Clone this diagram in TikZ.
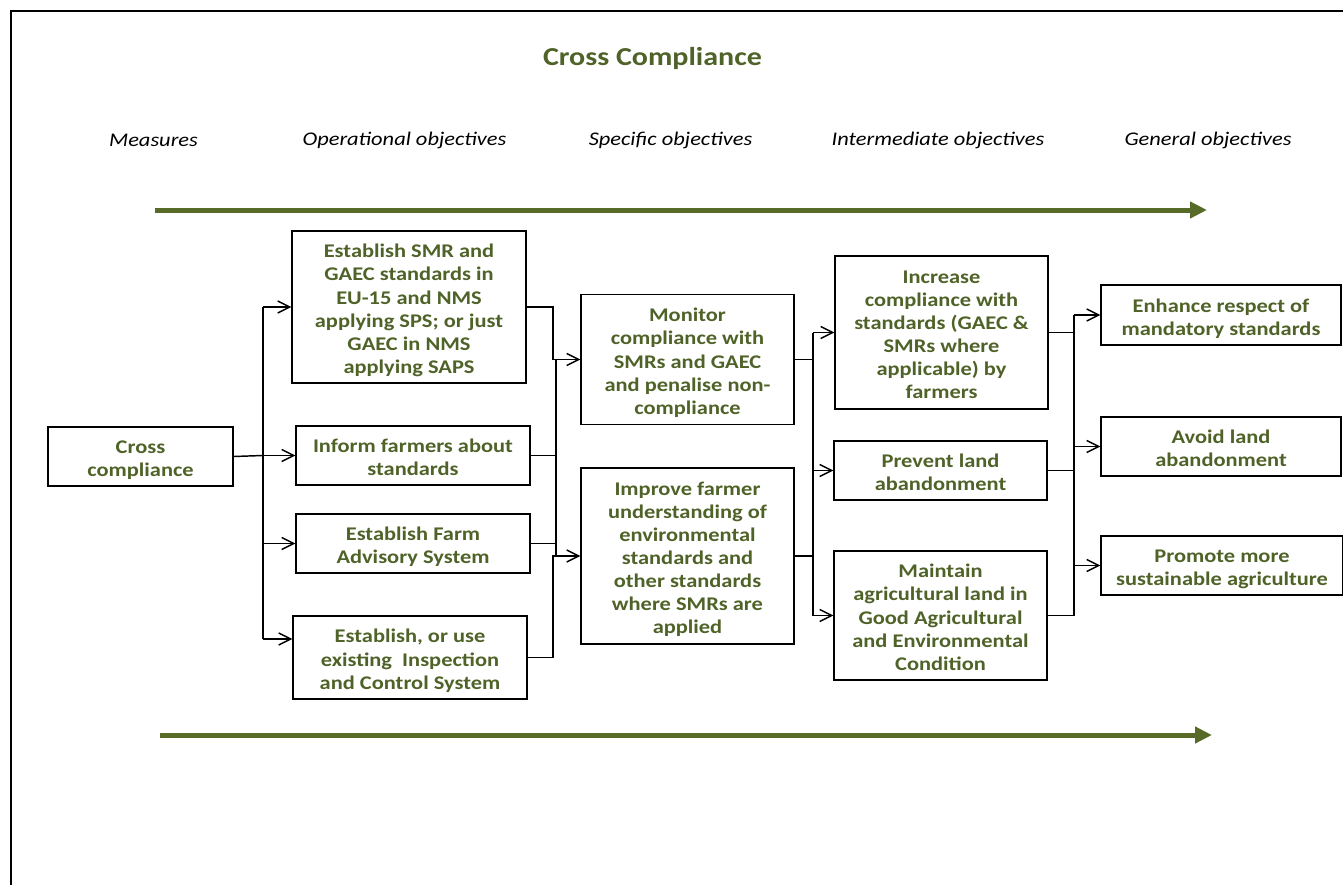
\documentclass[tikz,border=0pt]{standalone}
\usepackage{fontspec}
\setmainfont{Carlito}[FakeStretch=1.16]
\usetikzlibrary{arrows.meta,calc}
\definecolor{olivetext}{HTML}{4F6228}
\definecolor{olivearrow}{HTML}{586A28}
\newcommand\pxu{0.75pt}
\newcommand\btext[1]{\begin{tabular}{@{}c@{}}\rule{0pt}{18pt}#1\end{tabular}}
\tikzset{
  box/.style={draw=black, line width=1pt, inner sep=0pt,
    text=olivetext, font=\fontsize{14.5}{17.3}\selectfont\bfseries},
  hdr/.style={font=\fontsize{14.5}{17.3}\selectfont\itshape, text=black, inner sep=0pt},
  conn/.style={draw=black, line width=1.1pt},
  connar/.style={conn, -{Straight Barb[length=9pt,width=9pt,line width=1.1pt]}},
  bigar/.style={draw=olivearrow, line width=3.75pt, -{Triangle[length=12.75pt,width=12pt]}}
}
\begin{document}
\begin{tikzpicture}[x=0.75pt,y=-0.75pt]
\useasboundingbox (0,0) rectangle (1343,885);
% frame
\draw[line width=1.5pt] (11,885) -- (11,11) -- (1343,11);
% title
\node[font=\fontsize{19.4}{23}\selectfont\bfseries, text=olivetext, inner sep=0pt] (title) at (652.5,58) {Cross Compliance};
% headers
\node[hdr] (h1) at (153.5,140) {Measures};
\node[hdr] (h2) at (404.5,140) {Operational objectives};
\node[hdr] (h3) at (670.5,140) {Specific objectives};
\node[hdr] (h4) at (938,140) {Intermediate objectives};
\node[hdr] (h5) at (1208,140) {General objectives};
% big arrows
\coordinate (ta) at (155,210); \coordinate (tb) at (1207,210);
\coordinate (ba) at (160,735); \coordinate (bb) at (1212,735);
\draw[bigar] (ta) -- (tb);
\draw[bigar] (ba) -- (bb);
% boxes
\node[box, minimum width=185*\pxu, minimum height=59*\pxu] (cc) at (140.5,456.5) {\btext{Cross\\compliance}};
\node[box, minimum width=234*\pxu, minimum height=152*\pxu] (a1) at (409,307) {\btext{Establish SMR and\\GAEC standards in\\EU-15 and NMS\\applying SPS; or just\\GAEC in NMS\\applying SAPS}};
\node[box, minimum width=234*\pxu, minimum height=59*\pxu] (a2) at (413,455.5) {\btext{Inform farmers about\\standards}};
\node[box, minimum width=234*\pxu, minimum height=59*\pxu] (a3) at (413,543.5) {\btext{Establish Farm\\Advisory System}};
\node[box, minimum width=234*\pxu, minimum height=83*\pxu] (a4) at (410,657.5) {\btext{Establish, or use\\existing\ \ Inspection\\and Control System}};
\node[box, minimum width=213*\pxu, minimum height=130*\pxu] (b1) at (687.5,359.5) {\btext{Monitor\\compliance with\\SMRs and GAEC\\and penalise non-\\compliance}};
\node[box, minimum width=213*\pxu, minimum height=176*\pxu] (b2) at (687.5,556) {\btext{Improve farmer\\understanding of\\environmental\\standards and\\other standards\\where SMRs are\\applied}};
\node[box, minimum width=213*\pxu, minimum height=153*\pxu] (c1) at (941.5,332.5) {\btext{Increase\\compliance with\\standards (GAEC \&\\SMRs where\\applicable) by\\farmers}};
\node[box, minimum width=213*\pxu, minimum height=59*\pxu] (c2) at (940.5,470.5) {\btext{Prevent land\\abandonment}};
\node[box, minimum width=213*\pxu, minimum height=129*\pxu] (c3) at (940.5,615.5) {\btext{Maintain\\agricultural land in\\Good Agricultural\\and Environmental\\Condition}};
\node[box, minimum width=240*\pxu, minimum height=60*\pxu] (d1) at (1221,315) {\btext{Enhance respect of\\mandatory standards}};
\node[box, minimum width=240*\pxu, minimum height=59*\pxu] (d2) at (1221,446.5) {\btext{Avoid land\\abandonment}};
\node[box, minimum width=242*\pxu, minimum height=59*\pxu] (d3) at (1222,565.5) {\btext{Promote more\\sustainable agriculture}};
% connectors: measures -> operational
\coordinate (t1) at (263,307);
\coordinate (t2) at (263,455.5);
\coordinate (t3) at (263,543.5);
\coordinate (t4) at (263,639);
\draw[conn] (cc.east) -- (t2);
\draw[conn] (t1) -- (t4);
\draw[connar] (t1) -- (a1.west);
\draw[connar] (t2) -- (a2.west);
\draw[connar] (t3) -- (a3.west);
\draw[connar] (t4) -- (t4 -| a4.west);
% operational -> specific
\coordinate (j1) at (553,359.5);
\coordinate (j2) at (553,556);
\coordinate (v1) at (556,359.5);
\coordinate (v2) at (556,556);
\draw[connar] (a1.east) -| (j1) -- (b1.west);
\draw[connar] (a4.east) -| (j2) -- (b2.west);
\draw[conn] (v1) -- (v2);
\draw[conn] (a2.east) -- (a2.east -| v1);
\draw[conn] (a3.east) -- (a3.east -| v1);
% specific -> intermediate
\coordinate (k1) at (813,332.5);
\coordinate (k2) at (813,470.5);
\coordinate (k3) at (813,615.5);
\draw[conn] (k1) -- (k3);
\draw[conn] (b1.east) -- (b1.east -| k1);
\draw[conn] (b2.east) -- (b2.east -| k1);
\draw[connar] (k1) -- (c1.west);
\draw[connar] (k2) -- (c2.west);
\draw[connar] (k3) -- (c3.west);
% intermediate -> general
\coordinate (m1) at (1074,315);
\coordinate (m2) at (1074,446.5);
\coordinate (m3) at (1074,565.5);
\coordinate (m4) at (1074,615.5);
\draw[conn] (m1) -- (m4);
\draw[conn] (c1.east) -- (c1.east -| m1);
\draw[conn] (c2.east) -- (c2.east -| m1);
\draw[conn] (c3.east) -- (c3.east -| m1);
\draw[connar] (m1) -- (d1.west);
\draw[connar] (m2) -- (d2.west);
\draw[connar] (m3) -- (d3.west);
\end{tikzpicture}
\end{document}
